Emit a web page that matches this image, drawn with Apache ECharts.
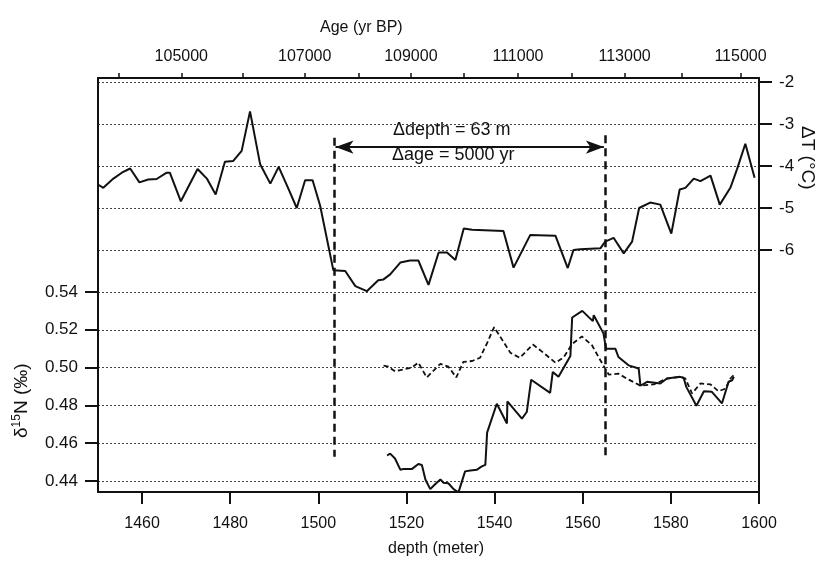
<!DOCTYPE html>
<html>
<head>
<meta charset="utf-8">
<script src="https://cdn.jsdelivr.net/npm/echarts@6/dist/echarts.min.js"></script>
<style>
html,body{margin:0;padding:0;background:#fff}
#chart{width:822px;height:565px}
</style>
</head>
<body>
<div id="chart"></div>
<script>
// depth axis (bottom) tick labels
var depthTicks = [1460, 1480, 1500, 1520, 1540, 1560, 1580, 1600];
// age axis (top): ages and the depth where each age tick sits
var ageTicks = [104000, 105000, 106000, 107000, 108000, 109000, 110000, 111000, 112000, 113000, 114000, 115000];
var ageTickDepth = [1454.7, 1468.9, 1482.8, 1496.9, 1509.1, 1521.0, 1532.9, 1545.3, 1557.4, 1569.5, 1582.4, 1595.8];
var ageLabels = [105000, 107000, 109000, 111000, 113000, 115000];
var n15Ticks = [0.44, 0.46, 0.48, 0.50, 0.52, 0.54];
var dtTicks = [-6, -5, -4, -3, -2];

// delta T (top curve)
var dtDepth = [1450.0, 1451.2, 1453.5, 1455.4, 1457.3, 1459.4, 1461.4, 1463.3, 1465.6, 1466.3, 1468.8, 1472.6, 1474.7, 1476.7, 1478.8, 1480.7, 1482.6, 1484.5, 1486.8, 1489.1, 1491.0, 1493.2, 1495.1, 1497.0, 1498.7, 1500.4, 1503.4, 1506.1, 1508.4, 1511.0, 1513.6, 1514.8, 1516.3, 1518.6, 1520.8, 1522.7, 1525.0, 1527.3, 1529.2, 1531.1, 1533.0, 1534.9, 1542.0, 1544.3, 1548.1, 1553.8, 1556.6, 1557.9, 1559.4, 1564.0, 1565.1, 1567.0, 1569.3, 1571.2, 1572.8, 1575.3, 1577.6, 1580.1, 1582.0, 1583.3, 1585.2, 1586.7, 1589.0, 1591.1, 1593.5, 1595.0, 1596.9, 1599.0];
var dtValue = [-4.44, -4.52, -4.30, -4.16, -4.06, -4.39, -4.32, -4.31, -4.16, -4.16, -4.84, -4.07, -4.30, -4.68, -3.90, -3.88, -3.64, -2.70, -3.96, -4.42, -4.02, -4.54, -5.00, -4.34, -4.34, -4.94, -6.48, -6.50, -6.86, -6.98, -6.72, -6.70, -6.58, -6.30, -6.25, -6.25, -6.83, -6.06, -6.06, -6.24, -5.49, -5.52, -5.55, -6.42, -5.64, -5.66, -6.43, -6.00, -5.98, -5.96, -5.80, -5.71, -6.08, -5.80, -5.00, -4.87, -4.92, -5.61, -4.56, -4.52, -4.30, -4.36, -4.23, -4.92, -4.52, -4.08, -3.47, -4.28];

// d15N solid curve
var n15Depth = [1515.6, 1516.3, 1517.4, 1518.6, 1519.3, 1521.2, 1522.7, 1523.5, 1524.3, 1525.4, 1526.5, 1527.7, 1528.4, 1529.5, 1530.7, 1531.8, 1533.3, 1534.5, 1536.0, 1537.1, 1537.9, 1538.3, 1540.5, 1542.8, 1542.9, 1546.2, 1547.3, 1548.3, 1552.6, 1553.2, 1554.5, 1557.2, 1557.6, 1559.9, 1562.3, 1562.5, 1564.7, 1565.3, 1567.4, 1568.1, 1570.4, 1572.7, 1573.1, 1574.6, 1577.6, 1579.1, 1582.1, 1582.9, 1583.5, 1585.8, 1587.5, 1589.3, 1591.6, 1593.1, 1593.9, 1594.3];
var n15Solid = [0.4535, 0.4545, 0.4519, 0.4460, 0.4463, 0.4463, 0.4490, 0.4485, 0.4408, 0.4357, 0.4383, 0.4408, 0.4391, 0.4388, 0.4357, 0.4340, 0.4451, 0.4456, 0.4460, 0.4477, 0.4485, 0.4656, 0.4809, 0.4704, 0.4821, 0.4730, 0.4765, 0.4936, 0.4866, 0.4977, 0.4951, 0.5061, 0.5265, 0.5300, 0.5246, 0.5277, 0.5181, 0.5100, 0.5100, 0.5056, 0.5012, 0.4995, 0.4904, 0.4925, 0.4916, 0.4942, 0.4951, 0.4946, 0.4898, 0.4798, 0.4875, 0.4872, 0.4811, 0.4925, 0.4933, 0.4951];

// d15N dashed curve
var n15DashDepth = [1514.8, 1515.9, 1517.4, 1519.3, 1521.2, 1522.7, 1524.6, 1526.1, 1527.7, 1529.5, 1531.3, 1532.9, 1534.9, 1536.7, 1538.3, 1539.9, 1541.7, 1543.6, 1545.7, 1548.7, 1551.1, 1553.8, 1555.7, 1557.6, 1559.8, 1562.1, 1564.0, 1565.9, 1568.1, 1570.0, 1573.1, 1576.1, 1579.1, 1582.1, 1583.3, 1584.8, 1586.7, 1589.0, 1590.8, 1592.4, 1593.5, 1594.4];
var n15Dashed = [0.5010, 0.5005, 0.4980, 0.4990, 0.5000, 0.5026, 0.4948, 0.4983, 0.5020, 0.5005, 0.4948, 0.5030, 0.5035, 0.5052, 0.5130, 0.5214, 0.5148, 0.5078, 0.5052, 0.5122, 0.5078, 0.5026, 0.5055, 0.5125, 0.5165, 0.5118, 0.5039, 0.4963, 0.4968, 0.4942, 0.4904, 0.4911, 0.4942, 0.4951, 0.4942, 0.4863, 0.4916, 0.4911, 0.4875, 0.4889, 0.4942, 0.4963];

function zip(a, b) {
    return a.map(function (v, i) { return [v, b[i]]; });
}

var FONT = 'Liberation Sans';
var ink = '#111';

var myChart = echarts.init(document.getElementById('chart'));
var option = {
    backgroundColor: '#fff',
    animation: false,
    textStyle: { fontFamily: FONT, color: ink },
    grid: { left: 98, right: 63, top: 78, bottom: 73 },
    xAxis: [
        {
            type: 'value', position: 'bottom', min: 1450, max: 1600,
            axisLine: { lineStyle: { color: ink, width: 2 } },
            axisTick: { customValues: depthTicks, length: 12, lineStyle: { color: ink, width: 2 } },
            axisLabel: {
                customValues: depthTicks, margin: 24, fontSize: 16, color: ink, fontFamily: FONT,
                formatter: function (v) { return String(v); }
            },
            splitLine: { show: false }
        },
        {
            type: 'value', position: 'top', min: 1450, max: 1600,
            axisLine: { lineStyle: { color: ink, width: 2 } },
            axisTick: { customValues: ageTickDepth, length: 5, lineStyle: { color: ink, width: 1.5 } },
            axisLabel: {
                customValues: ageLabels.map(function (a) { return ageTickDepth[ageTicks.indexOf(a)]; }),
                margin: 13, fontSize: 16, color: ink, fontFamily: FONT,
                formatter: function (v) {
                    for (var i = 0; i < ageTickDepth.length; i++) {
                        if (Math.abs(ageTickDepth[i] - v) < 1e-6) return String(ageTicks[i]);
                    }
                    return '';
                }
            },
            splitLine: { show: false }
        }
    ],
    yAxis: [
        {
            type: 'value', position: 'left', min: 0.43418, max: 0.65323,
            axisLine: { show: true, lineStyle: { color: ink, width: 2 } },
            axisTick: { show: true, customValues: n15Ticks, length: 13, lineStyle: { color: ink, width: 2 } },
            axisLabel: {
                customValues: n15Ticks, margin: 20, fontSize: 17, color: ink, fontFamily: FONT,
                formatter: function (v) { return v.toFixed(2); }
            },
            splitLine: { show: true, lineStyle: { color: '#444', type: [2, 2], width: 1 } }
        },
        {
            type: 'value', position: 'right', min: -11.762, max: -1.9048,
            axisLine: { show: true, lineStyle: { color: ink, width: 2 } },
            axisTick: { show: true, customValues: dtTicks, length: 13, lineStyle: { color: ink, width: 2 } },
            axisLabel: { customValues: dtTicks, margin: 20, fontSize: 17, color: ink, fontFamily: FONT },
            splitLine: { show: true, lineStyle: { color: '#444', type: [2, 2], width: 1 } }
        }
    ],
    series: [
        {
            name: 'dT', type: 'line', xAxisIndex: 0, yAxisIndex: 1,
            data: zip(dtDepth, dtValue), showSymbol: false, symbol: 'none',
            lineStyle: { color: ink, width: 2 },
            markLine: {
                silent: true, animation: false,
                label: { show: false },
                data: [
                    [{ coord: [1503.6, -3.33], symbol: 'none', lineStyle: { color: ink, width: 2.5, type: [8, 5] } },
                     { coord: [1503.6, -10.92], symbol: 'none' }],
                    [{ coord: [1565.1, -3.27], symbol: 'none', lineStyle: { color: ink, width: 2.5, type: [8, 5] } },
                     { coord: [1565.1, -10.95], symbol: 'none' }],
                    [{ coord: [1503.9, -3.55], symbol: 'arrow', symbolSize: [10, 18], lineStyle: { color: ink, width: 2, type: 'solid' } },
                     { coord: [1564.8, -3.55], symbol: 'arrow', symbolSize: [10, 18] }]
                ]
            }
        },
        {
            name: 'd15N', type: 'line', xAxisIndex: 0, yAxisIndex: 0,
            data: zip(n15Depth, n15Solid), showSymbol: false, symbol: 'none',
            lineStyle: { color: ink, width: 2 }
        },
        {
            name: 'd15N-2', type: 'line', xAxisIndex: 0, yAxisIndex: 0,
            data: zip(n15DashDepth, n15Dashed), showSymbol: false, symbol: 'none',
            lineStyle: { color: ink, width: 1.8, type: [5, 3] }
        }
    ],
    graphic: [
        { type: 'text', left: 320, top: 20, style: { text: 'Age (yr BP)', font: '16px ' + FONT, fill: ink } },
        { type: 'text', left: 388, top: 541, style: { text: 'depth (meter)', font: '16px ' + FONT, fill: ink } },
        { type: 'text', x: 393, y: 121, style: { text: '\u0394depth = 63 m', font: '18px ' + FONT, fill: ink } },
        { type: 'text', x: 392, y: 146, style: { text: '\u0394age = 5000 yr', font: '18px ' + FONT, fill: ink, backgroundColor: '#fff' } },
        {
            type: 'text', x: 11, y: 438, rotation: Math.PI / 2,
            style: {
                text: '{a|\u03b4}{s|15}{a|N (\u2030)}',
                rich: {
                    a: { fontSize: 19, fontFamily: FONT, fill: ink, color: ink },
                    s: { fontSize: 12, fontFamily: FONT, fill: ink, color: ink, verticalAlign: 'top', padding: [0, 0, 10, 0] }
                }
            }
        },
        { type: 'text', x: 817, y: 126, rotation: -Math.PI / 2, style: { text: '\u0394T (\u00b0C)', font: '19px ' + FONT, fill: ink } }
    ]
};
myChart.setOption(option);
</script>
</body>
</html>
